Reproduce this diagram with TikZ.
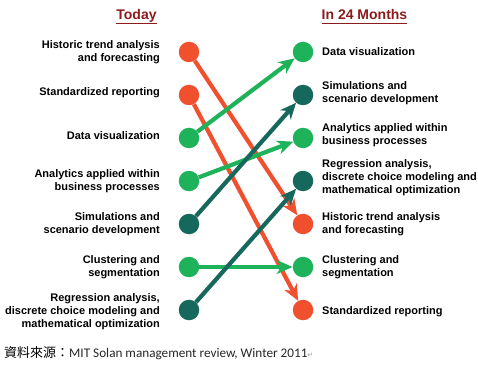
\documentclass[tikz,border=0pt]{standalone}
\usepackage{fontspec}
\setmainfont{Liberation Sans}
\newfontfamily\cjkfont{Noto Sans CJK TC}
\newfontfamily\notefont{Carlito}
\newfontfamily\symfont{DejaVu Sans}
\usetikzlibrary{arrows.meta}
\definecolor{nowred}{RGB}{240,80,45}
\definecolor{leafgreen}{RGB}{30,178,90}
\definecolor{darkteal}{RGB}{22,104,92}
\definecolor{headred}{RGB}{140,28,28}

\begin{document}
\begin{tikzpicture}[x=1pt,y=-1pt,
  dot/.style={circle, fill=#1, minimum size=20.5pt, inner sep=0pt},
  move/.style={draw=#1, line width=4.2pt, -{Stealth[length=16pt,width=14pt,inset=5pt]}},
  lefttext/.style={anchor=east, align=right, inner sep=0pt, font=\bfseries\fontsize{11}{13}\selectfont},
  righttext/.style={anchor=west, align=left, inner sep=0pt, font=\bfseries\fontsize{11}{13}\selectfont},
  head/.style={anchor=base, inner sep=0pt, text=headred, font=\bfseries\fontsize{14}{16}\selectfont}]
  \useasboundingbox (0,0) rectangle (478,366);
  % Column heads
  \node[head] (today) at (136.5,20) {Today};
  \node[head, anchor=base west] (later) at (321.5,20) {In 24 Months};
  \draw[headred, line width=0.8pt] ([yshift=-3pt]today.base west) -- ([yshift=-3pt]today.base east);
  \draw[headred, line width=0.8pt] ([yshift=-3pt]later.base west) -- ([yshift=-3pt]later.base east);
  % Today: dots
  \node[dot=nowred] (L1) at (189,52) {};
  \node[dot=nowred] (L2) at (189,95) {};
  \node[dot=leafgreen] (L3) at (189,138) {};
  \node[dot=leafgreen] (L4) at (189,181) {};
  \node[dot=darkteal] (L5) at (189,224) {};
  \node[dot=leafgreen] (L6) at (189,267) {};
  \node[dot=darkteal] (L7) at (189,310) {};
  % Today: labels
  \node[lefttext] (lt1) at (160,52) {Historic trend analysis\\and forecasting};
  \node[lefttext] (lt2) at (160,93) {Standardized reporting};
  \node[lefttext] (lt3) at (160,136) {Data visualization};
  \node[lefttext] (lt4) at (160,181) {Analytics applied within\\business processes};
  \node[lefttext] (lt5) at (160,224) {Simulations and\\scenario development};
  \node[lefttext] (lt6) at (160,267) {Clustering and\\segmentation};
  \node[lefttext] (lt7) at (160,312) {Regression analysis,\\discrete choice modeling and\\mathematical optimization};
  % In 24 months: dots
  \node[dot=leafgreen] (R1) at (303,52) {};
  \node[dot=darkteal] (R2) at (303,95) {};
  \node[dot=leafgreen] (R3) at (303,138) {};
  \node[dot=darkteal] (R4) at (303,181) {};
  \node[dot=nowred] (R5) at (303,224) {};
  \node[dot=leafgreen] (R6) at (303,267) {};
  \node[dot=nowred] (R7) at (303,310) {};
  % In 24 months: labels
  \node[righttext] (rt1) at (322,52) {Data visualization};
  \node[righttext] (rt2) at (322,93) {Simulations and\\scenario development};
  \node[righttext] (rt3) at (322,135) {Analytics applied within\\business processes};
  \node[righttext] (rt4) at (322,178) {Regression analysis,\\discrete choice modeling and\\mathematical optimization};
  \node[righttext] (rt5) at (322,224) {Historic trend analysis\\and forecasting};
  \node[righttext] (rt6) at (322,267) {Clustering and\\segmentation};
  \node[righttext] (rt7) at (322,312) {Standardized reporting};
  % Moves
  \draw[move=nowred] (L1) -- (R5);
  \draw[move=nowred] (L2) -- (R7);
  \draw[move=leafgreen] (L3) -- (R1);
  \draw[move=leafgreen] (L4) -- (R3);
  \draw[move=darkteal] (L5) -- (R2);
  \draw[move=leafgreen] (L6) -- (R6);
  \draw[move=darkteal] (L7) -- (R4);
  % Source
  \node[anchor=base west, inner sep=0pt] (source) at (4,357) {{\cjkfont\fontsize{13}{15}\selectfont 資料來源：}{\notefont\fontsize{13.2}{15}\selectfont\color{black!85}MIT Solan management review, Winter 2011}{\symfont\fontsize{7}{8}\selectfont\color{black!40}↵}};
\end{tikzpicture}
\end{document}
